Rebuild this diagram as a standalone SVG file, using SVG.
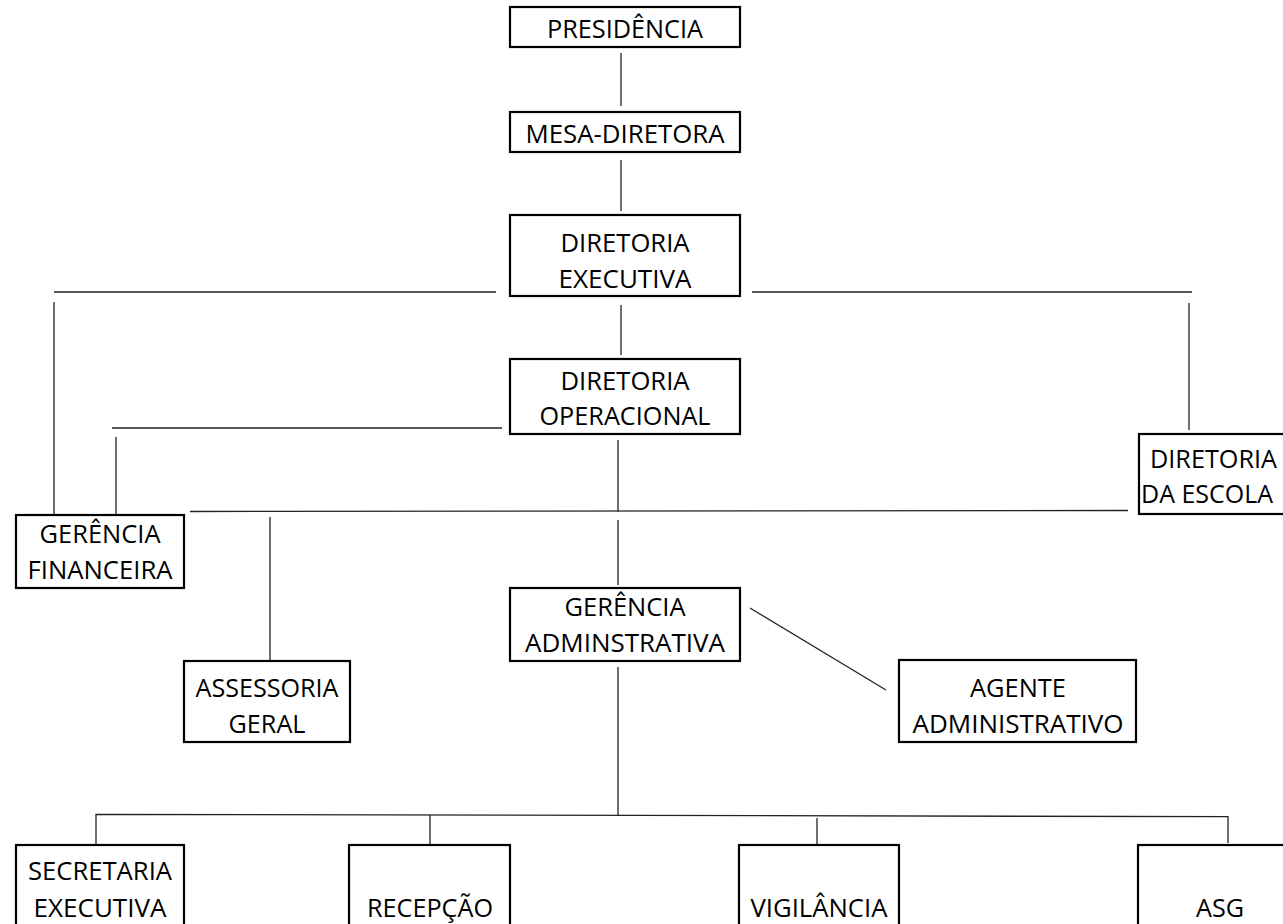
<svg xmlns="http://www.w3.org/2000/svg" width="1283" height="924" viewBox="0 0 1283 924">
<style>
.box{fill:#fff;stroke:#000;stroke-width:2.2}
.t{font-family:"Open Sans","Noto Sans","Liberation Sans",sans-serif;font-size:26px;fill:#000;text-anchor:middle}
.s{text-anchor:start}
.c{stroke:#222;stroke-width:1.3;fill:none}
</style>
<rect width="1283" height="924" fill="#fff"/>
<g id="connectors">
<line class="c" x1="621" y1="53" x2="621" y2="106"/>
<line class="c" x1="621" y1="160" x2="621" y2="211"/>
<line class="c" x1="621" y1="305" x2="621" y2="355"/>
<line class="c" x1="54" y1="292" x2="496" y2="292"/>
<line class="c" x1="54" y1="302" x2="54" y2="515"/>
<line class="c" x1="752" y1="292" x2="1192" y2="292"/>
<line class="c" x1="1189" y1="303" x2="1189" y2="430"/>
<line class="c" x1="112" y1="428" x2="502" y2="428"/>
<line class="c" x1="116" y1="437" x2="116" y2="514"/>
<line class="c" x1="618" y1="440" x2="618" y2="511.5"/>
<line class="c" x1="190" y1="511.5" x2="1128" y2="510.5"/>
<line class="c" x1="270" y1="517" x2="270" y2="660"/>
<line class="c" x1="618" y1="520" x2="618" y2="585"/>
<line class="c" x1="750" y1="608" x2="886" y2="690"/>
<line class="c" x1="618" y1="667" x2="618" y2="815"/>
<polyline class="c" points="96,845 96,814.3 1228,816.7 1228,843"/>
<line class="c" x1="430" y1="815" x2="430" y2="848"/>
<line class="c" x1="817" y1="818" x2="817" y2="847"/>
</g>
<g id="presidencia">
<rect class="box" x="510" y="7" width="230" height="40"/>
<text class="t" x="625" y="38" textLength="156" lengthAdjust="spacingAndGlyphs">PRESIDÊNCIA</text>
</g>
<g id="mesa-diretora">
<rect class="box" x="510" y="112" width="230" height="40"/>
<text class="t" x="625" y="143" textLength="199" lengthAdjust="spacingAndGlyphs">MESA-DIRETORA</text>
</g>
<g id="diretoria-executiva">
<rect class="box" x="510" y="215" width="230" height="81"/>
<text class="t" x="625" y="252" textLength="129" lengthAdjust="spacingAndGlyphs">DIRETORIA</text>
<text class="t" x="625" y="288" textLength="133" lengthAdjust="spacingAndGlyphs">EXECUTIVA</text>
</g>
<g id="diretoria-operacional">
<rect class="box" x="510" y="359" width="230" height="75"/>
<text class="t" x="625" y="390" textLength="129" lengthAdjust="spacingAndGlyphs">DIRETORIA</text>
<text class="t" x="625" y="425" textLength="171" lengthAdjust="spacingAndGlyphs">OPERACIONAL</text>
</g>
<g id="diretoria-escola">
<rect class="box" x="1139" y="434" width="220" height="80"/>
<text class="t s" x="1150" y="468" textLength="127" lengthAdjust="spacingAndGlyphs">DIRETORIA</text>
<text class="t s" x="1141" y="503" textLength="132" lengthAdjust="spacingAndGlyphs">DA ESCOLA</text>
</g>
<g id="gerencia-financeira">
<rect class="box" x="16" y="515" width="168" height="73"/>
<text class="t" x="100" y="543" textLength="121" lengthAdjust="spacingAndGlyphs">GERÊNCIA</text>
<text class="t" x="100" y="579" textLength="145" lengthAdjust="spacingAndGlyphs">FINANCEIRA</text>
</g>
<g id="gerencia-administrativa">
<rect class="box" x="510" y="588" width="230" height="73"/>
<text class="t" x="625" y="616" textLength="121" lengthAdjust="spacingAndGlyphs">GERÊNCIA</text>
<text class="t" x="625" y="652" textLength="200" lengthAdjust="spacingAndGlyphs">ADMINSTRATIVA</text>
</g>
<g id="assessoria-geral">
<rect class="box" x="184" y="661" width="166" height="81"/>
<text class="t" x="267" y="697" textLength="143" lengthAdjust="spacingAndGlyphs">ASSESSORIA</text>
<text class="t" x="267" y="733" textLength="77" lengthAdjust="spacingAndGlyphs">GERAL</text>
</g>
<g id="agente-administrativo">
<rect class="box" x="899" y="660" width="237" height="82"/>
<text class="t" x="1018" y="697" textLength="96" lengthAdjust="spacingAndGlyphs">AGENTE</text>
<text class="t" x="1018" y="733" textLength="211" lengthAdjust="spacingAndGlyphs">ADMINISTRATIVO</text>
</g>
<g id="secretaria-executiva">
<rect class="box" x="16" y="845" width="168" height="100"/>
<text class="t" x="100" y="880" textLength="144" lengthAdjust="spacingAndGlyphs">SECRETARIA</text>
<text class="t" x="100" y="917" textLength="133" lengthAdjust="spacingAndGlyphs">EXECUTIVA</text>
</g>
<g id="recepcao">
<rect class="box" x="349" y="845" width="161" height="100"/>
<text class="t" x="430" y="917" textLength="126" lengthAdjust="spacingAndGlyphs">RECEPÇÃO</text>
</g>
<g id="vigilancia">
<rect class="box" x="739" y="845" width="160" height="100"/>
<text class="t" x="819" y="917" textLength="137" lengthAdjust="spacingAndGlyphs">VIGILÂNCIA</text>
</g>
<g id="asg">
<rect class="box" x="1138" y="845" width="200" height="100"/>
<text class="t" x="1220" y="917" textLength="48" lengthAdjust="spacingAndGlyphs">ASG</text>
</g>
</svg>
